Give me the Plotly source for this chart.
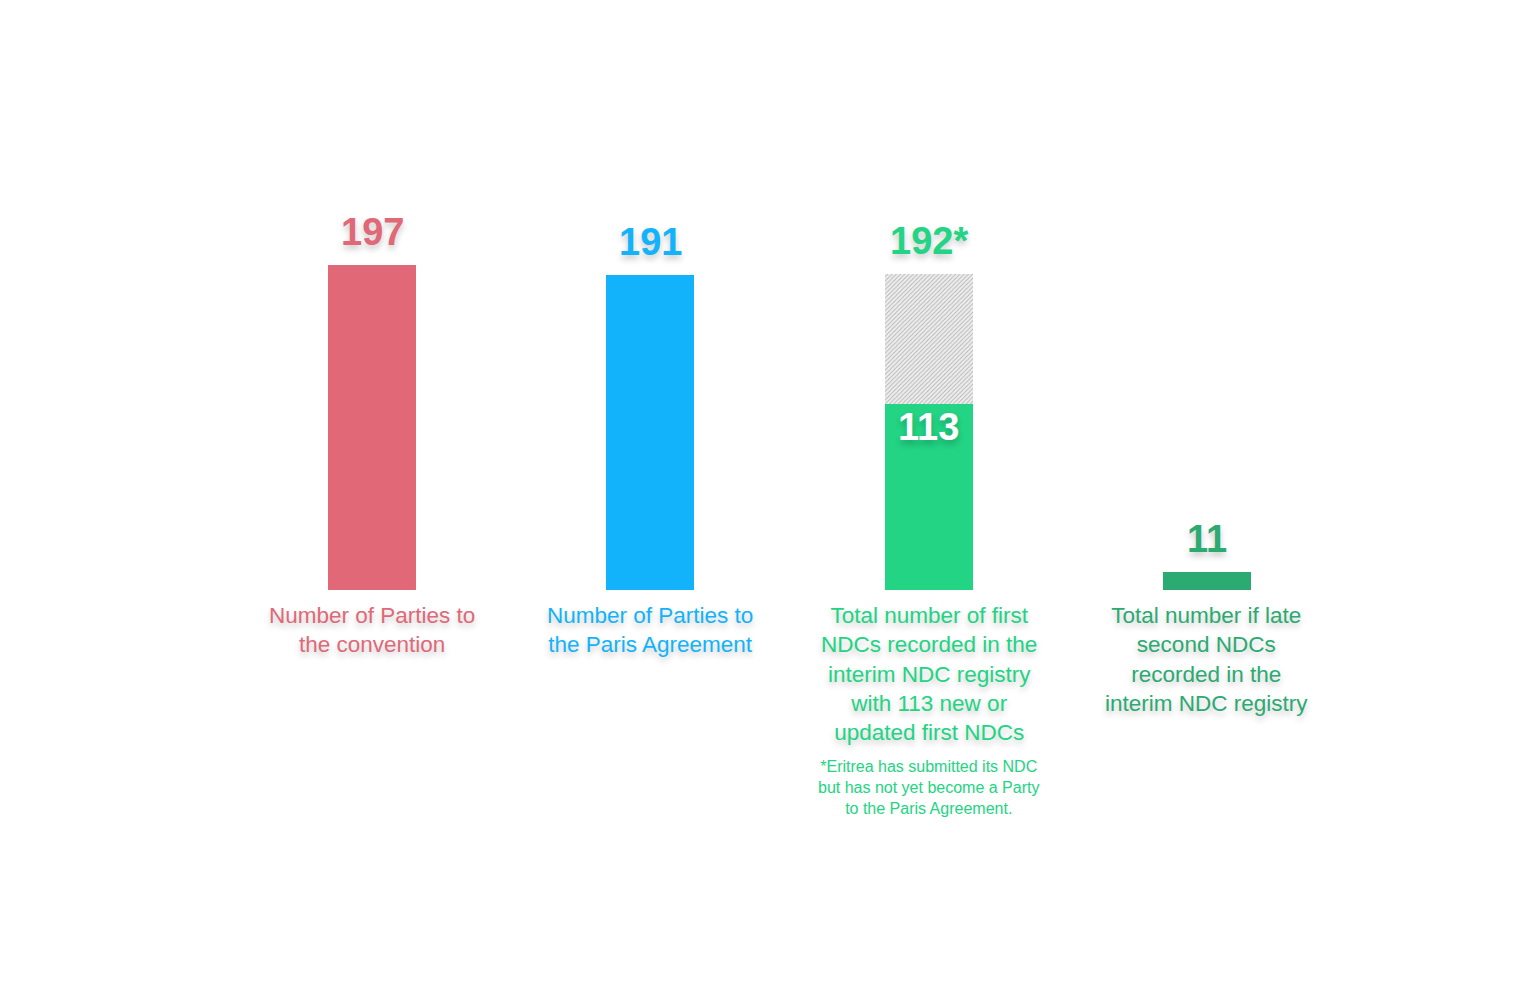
import plotly.graph_objects as go

# data
labels = [
    "Number of Parties to<br>the convention",
    "Number of Parties to<br>the Paris Agreement",
    "Total number of first<br>NDCs recorded in the<br>interim NDC registry<br>with 113 new or<br>updated first NDCs",
    "Total number if late<br>second NDCs<br>recorded in the<br>interim NDC registry",
]
values = [197, 191, 113, 11]
remaining = [0, 0, 79, 0]          # 192 - 113, shown hatched
top_labels = ["197", "191", "192*", "11"]
colors = ["#E06877", "#12B3FA", "#22D483", "#2BAA72"]
footnote = "*Eritrea has submitted its NDC<br>but has not yet become a Party<br>to the Paris Agreement."

x = list(range(len(values)))
shadow = "0px 4px 6px rgba(0,0,0,0.22)"
font_family = "Liberation Sans, Arial, sans-serif"

fig = go.Figure()
fig.add_trace(go.Bar(x=x, y=values, marker=dict(color=colors, line=dict(width=0)),
                     width=0.316, hoverinfo="skip"))
fig.add_trace(go.Bar(x=x, y=remaining,
                     marker=dict(color="#e4e4e4", line=dict(width=0),
                                 pattern=dict(shape="/", fgcolor="#7a7a7a", bgcolor="#eeeeee",
                                              size=3, solidity=0.3)),
                     width=0.316, hoverinfo="skip"))

totals = [v + r for v, r in zip(values, remaining)]
# value labels above bars
for i, t in enumerate(top_labels):
    fig.add_annotation(x=i, y=totals[i], text="<b>%s</b>" % t, showarrow=False,
                       yanchor="bottom", yshift=10,
                       font=dict(size=38, color=colors[i], family=font_family, shadow=shadow))
# value inside the green part
fig.add_annotation(x=2, y=values[2], text="<b>113</b>", showarrow=False, yanchor="top", yshift=0,
                   font=dict(size=38, color="white", family=font_family, shadow=shadow))

# category labels under bars
for i, lab in enumerate(labels):
    fig.add_annotation(x=i, xref="x", y=0.407, yref="paper", text=lab, showarrow=False,
                       yanchor="top", align="center",
                       font=dict(size=22.5, color=colors[i], family=font_family, shadow=shadow))
fig.add_annotation(x=2, y=0.252, yref="paper", text=footnote, showarrow=False,
                   yanchor="top", align="center",
                   font=dict(size=16, color="#22D483", family=font_family))

fig.update_layout(
    width=1540, height=1000, barmode="stack", showlegend=False,
    paper_bgcolor="white", plot_bgcolor="white",
    margin=dict(l=0, r=0, t=0, b=0),
    xaxis=dict(range=[-0.5, 3.5], domain=[0.1461, 0.8688], visible=False),
    yaxis=dict(range=[0, 250], domain=[0.418, 0.830], visible=False),
)

fig.write_html("out.html")
